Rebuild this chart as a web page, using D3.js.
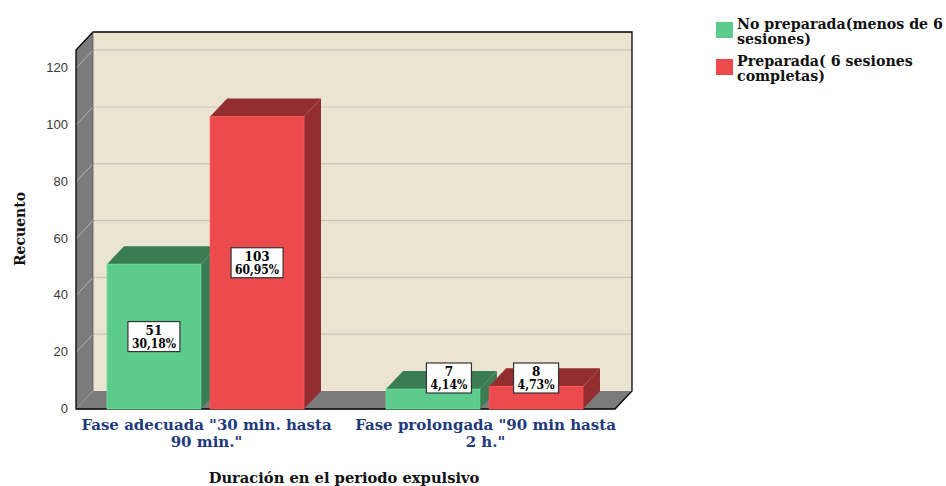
<!DOCTYPE html>
<html>
<head>
<meta charset="utf-8">
<script src="https://cdn.jsdelivr.net/npm/d3@7"></script>
<style>
  html, body { margin: 0; padding: 0; background: #ffffff; overflow: hidden; }
  svg { display: block; }
</style>
</head>
<body>
<svg id="chart" width="946" height="486"></svg>
<script>
// Categories (each label split into its display lines)
const categories = [
  ['Fase adecuada "30 min. hasta', '90 min."'],
  ['Fase prolongada "90 min hasta', '2 h."']
];
// Series
const seriesNames = [
  ['No preparada(menos de 6', 'sesiones)'],
  ['Preparada( 6 sesiones', 'completas)']
];
const noPreparada = [51, 7];
const preparada = [103, 8];
const yTicks = [0, 20, 40, 60, 80, 100, 120];

const series = [noPreparada, preparada];
const total = d3.sum(series.flat());

const colors = [
  { front: '#5ccb8b', top: '#3a7d55', side: '#3a7d55' },
  { front: '#ec4a4d', top: '#922e2f', side: '#922e2f' }
];

const svg = d3.select('#chart');
const DX = 17, DY = 18;           // depth offset of the 3D box

const y = d3.scaleLinear().domain([0, 126.4]).range([409, 50]);
const x0 = d3.scaleBand().domain(d3.range(categories.length)).range([66, 624]).paddingInner(0).paddingOuter(0);
const groupW = 197;
const x1 = d3.scaleBand().domain(d3.range(series.length)).range([0, groupW]).paddingInner(0.09);

const left = 76, right = 615, floorY = y(0), topY = y.range()[1];

// back wall
svg.append('rect')
  .attr('x', left + DX).attr('y', topY - DY)
  .attr('width', right - left).attr('height', floorY - topY)
  .attr('fill', '#ebe4d1');

// gridlines on back wall
svg.append('g').selectAll('line').data(yTicks.filter(d => d > 0)).join('line')
  .attr('x1', left + DX).attr('x2', right + DX)
  .attr('y1', d => y(d) - DY).attr('y2', d => y(d) - DY)
  .attr('stroke', '#c9c5bc').attr('stroke-width', 1.2);

// left wall
svg.append('path')
  .attr('d', `M${left},${floorY}L${left},${topY}L${left + DX},${topY - DY}L${left + DX},${floorY - DY}Z`)
  .attr('fill', '#7b7b7b');
svg.append('g').selectAll('line').data(yTicks.filter(d => d > 0)).join('line')
  .attr('x1', left).attr('x2', left + DX)
  .attr('y1', d => y(d)).attr('y2', d => y(d) - DY)
  .attr('stroke', '#b4b4b4').attr('stroke-width', 1);

// floor
svg.append('path')
  .attr('d', `M${left},${floorY}L${right},${floorY}L${right + DX},${floorY - DY}L${left + DX},${floorY - DY}Z`)
  .attr('fill', '#7b7b7b');

// outline of the box
svg.append('path')
  .attr('d', `M${left},${floorY}L${left},${topY}L${left + DX},${topY - DY}L${right + DX},${topY - DY}L${right + DX},${floorY - DY}L${right},${floorY}Z`)
  .attr('fill', 'none').attr('stroke', '#000').attr('stroke-width', 1.3);
svg.append('path')
  .attr('d', `M${left + DX},${floorY - DY}L${left + DX},${topY - DY}`)
  .attr('stroke', '#555').attr('stroke-width', 0.8);

// bars
const bars = [];
categories.forEach((c, ci) => {
  series.forEach((s, si) => {
    const gx = x0(ci) + (x0.bandwidth() - groupW) / 2;
    bars.push({ ci, si, v: s[ci], x: gx + x1(si), w: x1.bandwidth() });
  });
});

const barG = svg.append('g');
bars.forEach(b => {
  const yt = y(b.v), yb = y(0);
  const g = barG.append('g');
  // side face
  g.append('path')
    .attr('d', `M${b.x + b.w},${yb}L${b.x + b.w},${yt}L${b.x + b.w + DX},${yt - DY}L${b.x + b.w + DX},${yb - DY}Z`)
    .attr('fill', colors[b.si].side);
  // top face
  g.append('path')
    .attr('d', `M${b.x},${yt}L${b.x + DX},${yt - DY}L${b.x + b.w + DX},${yt - DY}L${b.x + b.w},${yt}Z`)
    .attr('fill', colors[b.si].top);
  // front face
  g.append('rect')
    .attr('x', b.x).attr('y', yt).attr('width', b.w).attr('height', yb - yt)
    .attr('fill', colors[b.si].front)
    .attr('stroke', d3.color(colors[b.si].front).brighter(0.3)).attr('stroke-width', 0.8);
});

// value labels
const pctFmt = v => d3.format('.2f')(v / total * 100).replace('.', ',') + '%';
const boxH = 30;
bars.forEach(b => {
  const yt = y(b.v), yb = y(0);
  let cx = b.x + b.w / 2, cy = (yt + yb) / 2;
  if (yb - yt < boxH + 4) {
    cy = yb - 31;
    if (b.si === 0) cx += 16;
  }
  const w = b.v >= 10 ? 52 : 45;
  const g = svg.append('g').attr('transform', `translate(${cx},${cy})`);
  g.append('rect')
    .attr('x', -w / 2).attr('y', -boxH / 2).attr('width', w).attr('height', boxH)
    .attr('fill', '#fff').attr('stroke', '#333').attr('stroke-width', 1.2);
  g.append('text').attr('y', -2).attr('text-anchor', 'middle')
    .attr('font-family', 'DejaVu Serif').attr('font-weight', 'bold').attr('font-size', 12)
    .text(b.v);
  g.append('text').attr('y', 11).attr('text-anchor', 'middle')
    .attr('font-family', 'DejaVu Serif').attr('font-weight', 'bold').attr('font-size', 12)
    .attr('textLength', w - 8).attr('lengthAdjust', 'spacingAndGlyphs')
    .text(pctFmt(b.v));
});

// y axis tick labels
svg.append('g').selectAll('text').data(yTicks).join('text')
  .attr('x', 68).attr('y', d => y(d) + 4)
  .attr('text-anchor', 'end')
  .attr('font-family', 'Liberation Sans, Arial, sans-serif').attr('font-size', 13)
  .attr('fill', '#3a3a3a')
  .text(d => d);

// y axis title
svg.append('text')
  .attr('transform', 'translate(25,229) rotate(-90)')
  .attr('text-anchor', 'middle')
  .attr('font-family', 'DejaVu Serif').attr('font-weight', 'bold').attr('font-size', 14)
  .attr('fill', '#111')
  .text('Recuento');

// category labels
categories.forEach((lines, ci) => {
  lines.forEach((ln, li) => {
    svg.append('text')
      .attr('x', x0(ci) + x0.bandwidth() / 2 + 1).attr('y', 430 + li * 17)
      .attr('text-anchor', 'middle')
      .attr('font-family', 'DejaVu Serif').attr('font-weight', 'bold').attr('font-size', 15)
      .attr('fill', '#1f3a7c')
      .text(ln);
  });
});

// x axis title
svg.append('text')
  .attr('x', 344).attr('y', 483)
  .attr('text-anchor', 'middle')
  .attr('font-family', 'DejaVu Serif').attr('font-weight', 'bold').attr('font-size', 14.7)
  .attr('fill', '#111')
  .text('Duración en el periodo expulsivo');

// legend
const leg = svg.append('g').attr('transform', 'translate(716,20)');
seriesNames.forEach((lines, si) => {
  const g = leg.append('g').attr('transform', `translate(0,${si * 37})`);
  g.append('rect').attr('x', 0).attr('y', 2).attr('width', 17).attr('height', 16)
    .attr('fill', colors[si].front);
  lines.forEach((ln, li) => {
    g.append('text')
      .attr('x', 21).attr('y', 9 + li * 15)
      .attr('font-family', 'DejaVu Serif').attr('font-weight', 'bold').attr('font-size', 14.2)
      .attr('fill', '#111')
      .text(ln);
  });
});
</script>
</body>
</html>
